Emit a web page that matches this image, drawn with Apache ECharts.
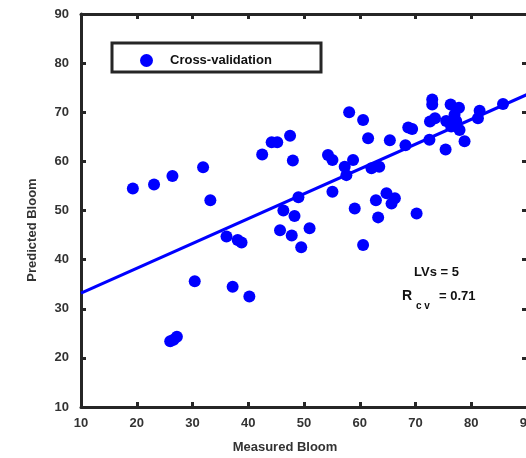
<!DOCTYPE html>
<html>
<head>
<meta charset="utf-8">
<script src="https://cdn.jsdelivr.net/npm/echarts@6/dist/echarts.min.js"></script>
<style>html,body{margin:0;padding:0;background:#fff;}#c{width:526px;height:458px;}</style>
</head>
<body>
<div id="c"></div>
<script>
const measured = [19.3,23.1,26.4,31.9,33.2,42.5,44.2,45.2,47.5,48.0,49.0,46.3,48.3,45.7,47.8,51.0,49.5,36.1,38.1,38.8,30.4,37.2,40.2,26.0,26.6,27.2,
  58.1,60.6,61.5,65.4,68.7,69.4,73.0,73.0,73.5,72.6,76.3,77.8,77.0,75.5,77.3,76.4,77.9,81.5,81.2,85.7,72.5,75.4,78.8,68.2,
  54.3,55.1,58.8,57.3,57.6,62.1,63.5,55.1,59.1,62.9,64.8,66.3,65.7,63.3,70.2,60.6];
const predicted = [54.5,55.3,57.0,58.8,52.1,61.4,63.9,63.9,65.2,60.2,52.7,50.0,48.9,46.0,44.9,46.4,42.5,44.7,44.0,43.5,35.6,34.5,32.5,23.4,23.7,24.3,
  70.0,68.4,64.7,64.3,66.9,66.6,72.6,71.6,68.8,68.1,71.6,70.9,69.5,68.2,68.2,67.1,66.4,70.3,68.8,71.7,64.4,62.4,64.1,63.3,
  61.3,60.3,60.3,58.9,57.2,58.6,58.9,53.8,50.4,52.1,53.5,52.5,51.4,48.6,49.4,43.0];
const fitX = [10, 90];
const fitY = [33.2, 73.6];
const seriesName = 'Cross-validation';
const xTitle = 'Measured Bloom';
const yTitle = 'Predicted Bloom';
const lvsText = 'LVs = 5';
const rText = 'R';
const rSub = 'c v';
const rVal = '= 0.71';

const font = 'Liberation Sans, Arial, sans-serif';
const axisCol = '#262626';
const labelStyle = {fontFamily: font, fontWeight: 'bold', fontSize: 13, color: '#333'};

const chart = echarts.init(document.getElementById('c'));
const axisCommon = {
  type: 'value', min: 10, max: 90, interval: 10,
  axisLine: {show: true, onZero: false, lineStyle: {color: axisCol, width: 3}},
  axisTick: {show: true, inside: true, length: 5, lineStyle: {color: axisCol, width: 3}},
  splitLine: {show: false}
};
chart.setOption({
  animation: false,
  backgroundColor: '#fff',
  grid: {left: 81, top: 14, width: 446, height: 393, containLabel: false, outerBoundsMode: 'none'},
  xAxis: [
    Object.assign({}, axisCommon, {position: 'bottom', axisLabel: Object.assign({margin: 10}, labelStyle)}),
    Object.assign({}, axisCommon, {position: 'top', axisLabel: {show: false}})
  ],
  yAxis: [
    Object.assign({}, axisCommon, {position: 'left', axisLabel: Object.assign({margin: 12}, labelStyle)}),
    Object.assign({}, axisCommon, {position: 'right', axisLabel: {show: false}})
  ],
  legend: {
    data: [{name: seriesName, icon: 'circle'}],
    left: 135, top: 49,
    itemWidth: 13, itemHeight: 13,
    textStyle: {fontFamily: font, fontWeight: 'bold', fontSize: 13, color: '#111', padding: [0, 0, 0, 12]}
  },
  graphic: [
    {type: 'rect', shape: {x: 112, y: 43, width: 209, height: 29}, style: {fill: 'none', stroke: axisCol, lineWidth: 3}, z: 1},
    {type: 'text', x: 285, y: 447, style: {text: xTitle, font: 'bold 13px ' + font, fill: '#333', textAlign: 'center', textVerticalAlign: 'middle'}},
    {type: 'text', x: 32, y: 230, rotation: Math.PI / 2, style: {text: yTitle, font: 'bold 13px ' + font, fill: '#333', textAlign: 'center', textVerticalAlign: 'middle'}},
    {type: 'text', x: 414, y: 272, style: {text: lvsText, font: 'bold 13px ' + font, fill: '#111', textVerticalAlign: 'middle'}},
    {type: 'text', x: 402, y: 296, style: {text: rText, font: 'bold 14px ' + font, fill: '#111', textVerticalAlign: 'middle'}},
    {type: 'text', x: 416, y: 306, style: {text: rSub, font: 'bold 10px ' + font, fill: '#111', textVerticalAlign: 'middle'}},
    {type: 'text', x: 439, y: 296, style: {text: rVal, font: 'bold 13px ' + font, fill: '#111', textVerticalAlign: 'middle'}}
  ],
  series: [
    {
      type: 'line', name: 'fit', data: fitX.map((x, i) => [x, fitY[i]]),
      showSymbol: false, lineStyle: {color: '#0000ff', width: 3}, z: 2, silent: true
    },
    {
      type: 'scatter', name: seriesName, data: measured.map((x, i) => [x, predicted[i]]),
      symbol: 'circle', symbolSize: 12, itemStyle: {color: '#0000ff', opacity: 1}, z: 3
    }
  ]
});
</script>
</body>
</html>
